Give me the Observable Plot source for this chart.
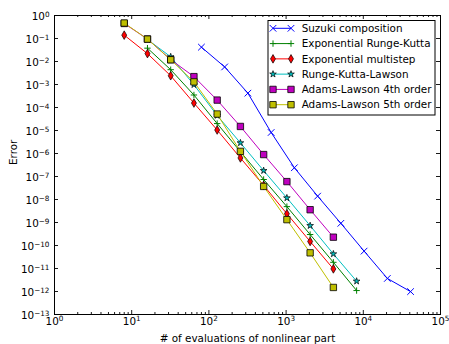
<!DOCTYPE html>
<html><head><meta charset="utf-8">
<script src="https://cdn.jsdelivr.net/npm/d3@7"></script>
<script src="https://cdn.jsdelivr.net/npm/@observablehq/plot@0.6"></script>
<style>
html,body{margin:0;padding:0;background:#fff;}
#wrap{position:relative;width:449px;height:344px;font-family:"DejaVu Sans",sans-serif;}
#wrap svg{display:block;}
#legend{position:absolute;left:0;top:0;pointer-events:none;}
</style></head><body><div id="wrap"></div>
<script>
// ---- data ----
const seriesNames = ["Suzuki composition","Exponential Runge-Kutta","Exponential multistep","Runge-Kutta-Lawson","Adams-Lawson 4th order","Adams-Lawson 5th order"];
const xSuzuki = [80,160,320,640,1280,2560,5120,10240,20480,40960];
const ySuzuki = [0.042,0.0058,4.2e-4,8.2e-6,2.4e-7,1.4e-8,9.2e-10,5.7e-11,3.7e-12,9.9e-13];
const xERK = [16,32,64,128,256,512,1024,2048,4096,8192];
const yERK = [0.038,0.0044,3.5e-4,2.0e-5,1.2e-6,7.4e-8,4.9e-9,3.0e-10,1.86e-11,1.1e-12];
const xEMS = [8,16,32,64,128,256,512,1024,2048,4096];
const yEMS = [0.14,0.022,0.0024,1.56e-4,1.05e-5,6.4e-7,4.1e-8,2.4e-9,1.5e-10,9.6e-12];
const xRKL = [16,32,64,128,256,512,1024,2048,4096,8192];
const yRKL = [0.09,0.016,9.8e-4,4.5e-5,2.9e-6,1.8e-7,1.17e-8,7.3e-10,4.3e-11,2.8e-12];
const xAL4 = [8,16,32,64,128,256,512,1024,2048,4096];
const yAL4 = [0.45,0.095,0.012,0.0022,2.1e-4,1.5e-5,9.0e-7,6.0e-8,3.6e-9,2.3e-10];
const xAL5 = [8,16,32,64,128,256,512,1024,2048,4096];
const yAL5 = [0.47,0.094,0.0119,0.0013,5.2e-5,1.24e-6,3.7e-8,1.33e-9,4.8e-11,1.5e-12];
const xMajorTicks = [1,10,100,1000,10000,100000];
const yMajorTicks = [1,1e-1,1e-2,1e-3,1e-4,1e-5,1e-6,1e-7,1e-8,1e-9,1e-10,1e-11,1e-12,1e-13];
const xMinorTicks = [1,10,100,1000,10000].flatMap(b => [2,3,4,5,6,7,8,9].map(m => m*b));
const xLabel = "# of evaluations of nonlinear part";
const yLabel = "Error";

// ---- styles ----
const styles = [
  {sym:"times",   r:3.1, line:"#0000ff", fill:"none",    stroke:"#0000ff", sw:1},
  {sym:"plus",    r:2.2, line:"#008000", fill:"none",    stroke:"#008000", sw:1},
  {sym:"diamond", r:2.6, line:"#ff0000", fill:"#ff0000", stroke:"#000",    sw:0.7},
  {sym:"star",    r:2.1, line:"#00bfbf", fill:"#00bfbf", stroke:"#000",    sw:0.7},
  {sym:"square",  r:3.6, line:"#bf00bf", fill:"#bf00bf", stroke:"#000",    sw:0.8},
  {sym:"square",  r:3.6, line:"#bfbf00", fill:"#bfbf00", stroke:"#000",    sw:0.8}
];
const xs = [xSuzuki,xERK,xEMS,xRKL,xAL4,xAL5];
const ys = [ySuzuki,yERK,yEMS,yRKL,yAL4,yAL5];
const seriesData = seriesNames.map((name,i) => xs[i].map((x,j) => ({series:name, x, y: ys[i][j]})));

const W=449, H=344, mL=54, mR=9, mT=15, mB=30;
const fw = W-mL-mR, fh = H-mT-mB;
const FS = 10.4;

const marks = [];
seriesData.forEach((data,i) => {
  const s = styles[i];
  marks.push(Plot.line(data, {x:"x", y:"y", stroke:s.line, strokeWidth:1}));
  marks.push(Plot.dot(data, {x:"x", y:"y", symbol:s.sym, r:s.r, fill:s.fill, stroke:s.stroke, strokeWidth:s.sw}));
});
// ticks (inward, all four sides)
marks.push(
  Plot.ruleX(xMajorTicks, {x:d=>d, insetTop:fh-4, stroke:"black", strokeWidth:0.9}),
  Plot.ruleX(xMajorTicks, {x:d=>d, insetBottom:fh-4, stroke:"black", strokeWidth:0.9}),
  Plot.ruleX(xMinorTicks, {x:d=>d, insetTop:fh-2, stroke:"black", strokeWidth:0.9}),
  Plot.ruleX(xMinorTicks, {x:d=>d, insetBottom:fh-2, stroke:"black", strokeWidth:0.9}),
  Plot.ruleY(yMajorTicks, {y:d=>d, insetRight:fw-4, stroke:"black", strokeWidth:0.9}),
  Plot.ruleY(yMajorTicks, {y:d=>d, insetLeft:fw-4, stroke:"black", strokeWidth:0.9}),
  Plot.frame({stroke:"black", strokeWidth:1}),
  Plot.text(xMajorTicks, {x:d=>d, frameAnchor:"bottom", text:d=>"10^"+Math.round(Math.log10(d)), dy:10, fontSize:FS, fill:"black"}),
  Plot.text(yMajorTicks, {y:d=>d, frameAnchor:"left", textAnchor:"end", text:d=>"10^"+Math.round(Math.log10(d)), dx:-5, dy:1.2, fontSize:FS, fill:"black"}),
  Plot.text([xLabel], {frameAnchor:"bottom", text:d=>d, dy:27.5, fontSize:FS, fill:"black"}),
  Plot.text([yLabel], {frameAnchor:"left", text:d=>d, rotate:-90, dx:-41, fontSize:FS, fill:"black"})
);

const chart = Plot.plot({
  width:W, height:H, marginLeft:mL, marginRight:mR, marginTop:mT, marginBottom:mB,
  style:{fontFamily:"DejaVu Sans", fontSize:FS+"px", background:"#fff", color:"black", overflow:"visible"},
  x:{type:"log", domain:[1,1e5], axis:null},
  y:{type:"log", domain:[1e-13,1], axis:null},
  marks
});
document.getElementById("wrap").appendChild(chart);

// superscript exponents
d3.select(chart).selectAll("text").each(function(){
  const s = this.textContent;
  if (!/^10\^/.test(s)) return;
  const parts = s.split("^");
  const t = d3.select(this); t.text(null);
  t.append("tspan").text(parts[0]);
  t.append("tspan").attr("dy","-0.45em").attr("font-size","0.7em").text(parts[1].replace("-","\u2212"));
});

// legend overlay
const lg = d3.select("#wrap").append("svg").attr("id","legend").attr("width",W).attr("height",H)
  .style("font-family","DejaVu Sans").style("font-size",FS+"px");
lg.append("rect").attr("x",268).attr("y",20.5).attr("width",167).attr("height",94.5)
  .attr("fill","#fff").attr("stroke","black").attr("stroke-width",1);
const symMap = {times:d3.symbolTimes, plus:d3.symbolPlus, diamond:d3.symbolDiamond, star:d3.symbolStar, square:d3.symbolSquare};
seriesNames.forEach((name,i) => {
  const s = styles[i]; const cy = 28.3 + i*15.28;
  lg.append("line").attr("x1",273).attr("x2",291).attr("y1",cy).attr("y2",cy).attr("stroke",s.line).attr("stroke-width",1);
  [273,291].forEach(cx => lg.append("path").attr("transform",`translate(${cx},${cy})`)
    .attr("d", d3.symbol(symMap[s.sym], s.r*s.r*Math.PI)()).attr("fill",s.fill).attr("stroke",s.stroke).attr("stroke-width",s.sw));
  lg.append("text").attr("x",301.7).attr("y",cy).attr("dy","0.35em").attr("fill","black").text(name);
});
</script></body></html>
